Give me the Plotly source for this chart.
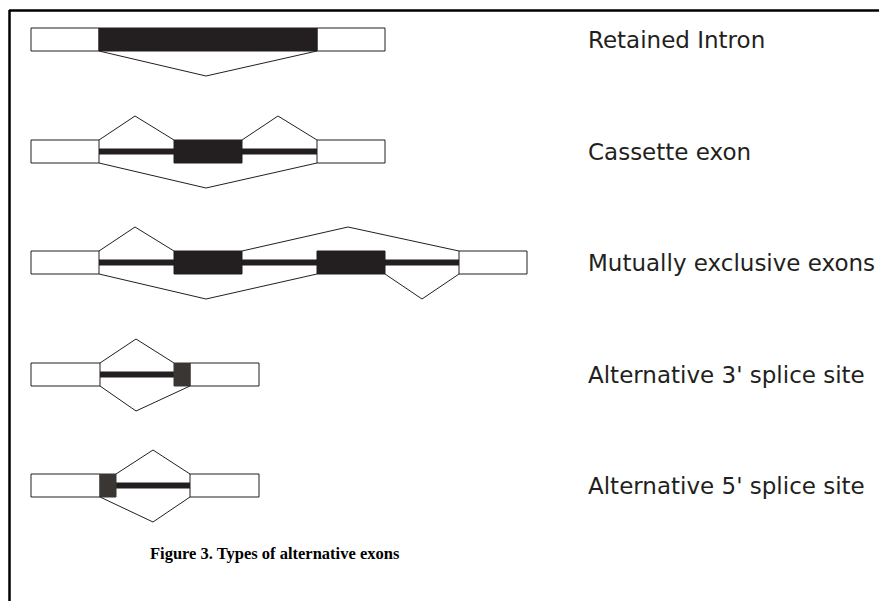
import plotly.graph_objects as go

# ---------------- data (diagram coordinates in drawing units) ----------------
row_labels = [
    "Retained Intron",
    "Cassette exon",
    "Mutually exclusive exons",
    "Alternative 3' splice site",
    "Alternative 5' splice site",
]
row_tops = [28, 140, 251, 363, 474]

# exons per row: (start, end, kind)
row_exons = [
    [(31, 99, "const"), (99, 317, "retained"), (317, 385, "const")],
    [(31, 99, "const"), (174, 242, "alt"), (317, 385, "const")],
    [(31, 99, "const"), (174, 242, "alt"), (317, 385, "alt"), (459, 527, "const")],
    [(31, 100, "const"), (174, 190, "site"), (190, 259, "const")],
    [(31, 100, "const"), (100, 116, "site"), (190, 259, "const")],
]
# introns per row: (start, end)
row_introns = [
    [],
    [(99, 317)],
    [(99, 459)],
    [(100, 174)],
    [(116, 190)],
]
# splice junctions per row: (start, peak, end, side)
row_junctions = [
    [(99, 206, 317, "below")],
    [(99, 135, 174, "above"), (242, 278, 317, "above"), (99, 206, 317, "below")],
    [(99, 135, 174, "above"), (242, 348, 459, "above"),
     (99, 206, 317, "below"), (385, 422, 459, "below")],
    [(100, 136, 174, "above"), (100, 136, 190, "below")],
    [(116, 153, 190, "above"), (100, 153, 190, "below")],
]
caption = "Figure 3. Types of alternative exons"

# ---------------- styles ----------------
INK = "#231f20"
DARK = "#3a3634"
BOX_H = 23
ARC_UP = 24
ARC_DOWN = 25
fill_for = {"const": "white", "retained": INK, "alt": INK, "site": DARK}
PAGE_MARGIN = 8  # default body margin of the html page

fig = go.Figure()


def poly(xs, ys, fill, line_color, width):
    fig.add_trace(go.Scatter(
        x=xs, y=ys, mode="lines", fill="toself", fillcolor=fill,
        line=dict(color=line_color, width=width), hoverinfo="skip",
        showlegend=False))


def line(xs, ys, color, width):
    fig.add_trace(go.Scatter(
        x=xs, y=ys, mode="lines", line=dict(color=color, width=width),
        hoverinfo="skip", showlegend=False))


for top, exons, introns, juncs in zip(row_tops, row_exons, row_introns, row_junctions):
    bot = top + BOX_H
    mid = (top + bot) / 2
    for s, e, k in exons:
        if k == "const":
            poly([s, e, e, s, s], [top, top, bot, bot, top], "white", INK, 1)
    for s, e in introns:
        line([s, e], [mid, mid], INK, 6)
    for s, e, k in exons:
        if k != "const":
            poly([s, e, e, s, s], [top, top, bot, bot, top], fill_for[k], fill_for[k], 1)
    for s, p, e, side in juncs:
        if side == "above":
            line([s, p, e], [top, top - ARC_UP, top], INK, 1)
        else:
            line([s, p, e], [bot, bot + ARC_DOWN, bot], INK, 1)

for top, lab in zip(row_tops, row_labels):
    fig.add_annotation(x=586, y=top + BOX_H / 2 + 0.5, text=lab, showarrow=False,
                       xanchor="left", yanchor="middle",
                       font=dict(family="DejaVu Sans", size=23, color=INK))

fig.add_annotation(x=148, y=553, text="<b>" + caption + "</b>", showarrow=False,
                   xanchor="left", yanchor="middle",
                   font=dict(family="Liberation Serif", size=16.5, color="black"))

# frame (top and left border)
line([9, 887], [10.5, 10.5], "black", 2.5)
line([9.5, 9.5], [10, 601], "black", 2.5)

W, H = 887, 601
fig.update_layout(
    width=W - PAGE_MARGIN, height=H - PAGE_MARGIN,
    margin=dict(l=0, r=0, t=0, b=0),
    paper_bgcolor="white", plot_bgcolor="white",
    xaxis=dict(range=[PAGE_MARGIN, W], visible=False, fixedrange=True),
    yaxis=dict(range=[H, PAGE_MARGIN], visible=False, fixedrange=True),
)

fig.write_html("out.html")
